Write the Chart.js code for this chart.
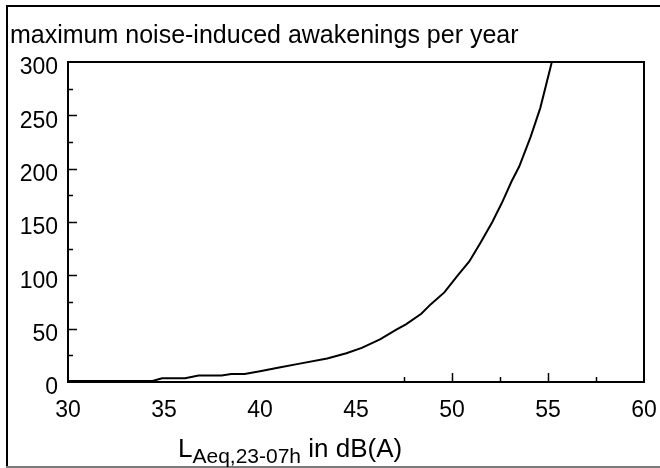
<!DOCTYPE html>
<html>
<head>
<meta charset="utf-8">
<script src="https://cdn.jsdelivr.net/npm/chart.js@4/dist/chart.umd.min.js"></script>
<style>
  html, body { margin: 0; padding: 0; background: #ffffff; }
  #wrap { width: 660px; height: 468px; position: relative; }
</style>
</head>
<body>
<div id="wrap"><canvas id="c" width="660" height="468"></canvas></div>
<script>
// ---- data ----
const levelsDB = [30, 34.4, 34.9, 36.1, 36.8, 38.0, 38.5, 39.2, 40, 41, 42, 43.5, 44.5, 45.3, 46.25, 47.1, 47.6, 48.4, 48.9, 49.6, 50.3, 50.9, 51.5, 52.1, 52.6, 53.1, 53.5, 54.1, 54.6, 55.2];
const awakenings = [1, 1, 3.5, 3.5, 6, 6, 7.5, 7.5, 10, 13.5, 17, 22, 27, 32, 40, 49, 54, 64, 73, 84, 100, 113, 131, 150, 168, 188, 202, 230, 257, 300];
const titleText = 'maximum noise-induced awakenings per year';
const xTitleMain = 'L';
const xTitleSub = 'Aeq,23-07h';
const xTitleRest = ' in dB(A)';
const xMin = 30, xMax = 60, xStep = 5, xMinorStep = 2.5, xTickFrom = 47.5;
const yMin = 0, yMax = 300, yStep = 50, yMinorStep = 25;

const FONT = '"Liberation Sans", Arial, sans-serif';

const decorPlugin = {
  id: 'decor',
  afterDraw(chart) {
    const ctx = chart.ctx;
    const a = chart.chartArea;
    const xs = chart.scales.x, ys = chart.scales.y;
    ctx.save();
    // outer frame
    ctx.lineWidth = 2;
    ctx.strokeStyle = '#000';
    ctx.beginPath();
    ctx.moveTo(7, 467); ctx.lineTo(7, 6); ctx.lineTo(662, 6);
    ctx.stroke();
    ctx.strokeStyle = '#7a7a7a';
    ctx.beginPath();
    ctx.moveTo(6, 467); ctx.lineTo(662, 467);
    ctx.stroke();
    // plot box
    ctx.strokeStyle = '#000';
    ctx.lineWidth = 2;
    ctx.strokeRect(a.left, a.top, a.right - a.left, a.bottom - a.top);
    // inward y ticks
    ctx.lineWidth = 1.5;
    ctx.beginPath();
    for (let v = yMin + yMinorStep; v < yMax; v += yMinorStep) {
      const py = Math.round(ys.getPixelForValue(v)) + 0.5;
      const len = (v % yStep === 0) ? 9 : 5;
      ctx.moveTo(a.left, py); ctx.lineTo(a.left + len, py);
    }
    // inward x ticks
    for (let v = xTickFrom; v < xMax; v += xMinorStep) {
      const px = Math.round(xs.getPixelForValue(v)) + 0.5;
      const len = (v % xStep === 0) ? 9 : 5;
      ctx.moveTo(px, a.bottom); ctx.lineTo(px, a.bottom - len);
    }
    ctx.stroke();
    // x axis title with subscript
    ctx.fillStyle = '#000';
    ctx.textBaseline = 'alphabetic';
    ctx.textAlign = 'left';
    let x = 178;
    ctx.font = '26px ' + FONT;
    ctx.fillText(xTitleMain, x, 457);
    x += ctx.measureText(xTitleMain).width;
    ctx.font = '21px ' + FONT;
    ctx.fillText(xTitleSub, x, 463);
    x += ctx.measureText(xTitleSub).width;
    ctx.font = '26px ' + FONT;
    ctx.fillText(xTitleRest, x, 457);
    ctx.restore();
  }
};

new Chart(document.getElementById('c'), {
  type: 'line',
  data: {
    datasets: [{
      data: levelsDB.map((d, i) => ({ x: d, y: awakenings[i] })),
      borderColor: '#000',
      borderWidth: 2,
      pointRadius: 0,
      tension: 0,
      fill: false
    }]
  },
  options: {
    responsive: false,
    animation: false,
    devicePixelRatio: 1,
    layout: { padding: { left: 10, right: 16, top: 0, bottom: 0 } },
    plugins: {
      legend: { display: false },
      tooltip: { enabled: false },
      title: {
        display: true,
        text: titleText,
        align: 'start',
        color: '#000',
        font: { family: FONT, size: 25, weight: 'normal', lineHeight: 1.2 },
        padding: { top: 21, bottom: 11 }
      }
    },
    scales: {
      x: {
        type: 'linear',
        min: xMin, max: xMax,
        grid: { display: false, drawTicks: false },
        border: { display: false },
        ticks: { stepSize: xStep, color: '#000', padding: 15, maxRotation: 0,
                 font: { family: FONT, size: 23 } },
        afterFit(scale) { scale.height = 86; scale.paddingLeft = 0; scale.paddingRight = 0; }
      },
      y: {
        type: 'linear',
        min: yMin, max: yMax,
        grid: { display: false, drawTicks: false },
        border: { display: false },
        ticks: { stepSize: yStep, color: '#000', padding: 10, labelOffset: 6,
                 font: { family: FONT, size: 23 } },
        afterFit(scale) { scale.width = 58; scale.paddingTop = 0; scale.paddingBottom = 0; }
      }
    }
  },
  plugins: [decorPlugin]
});
</script>
</body>
</html>
